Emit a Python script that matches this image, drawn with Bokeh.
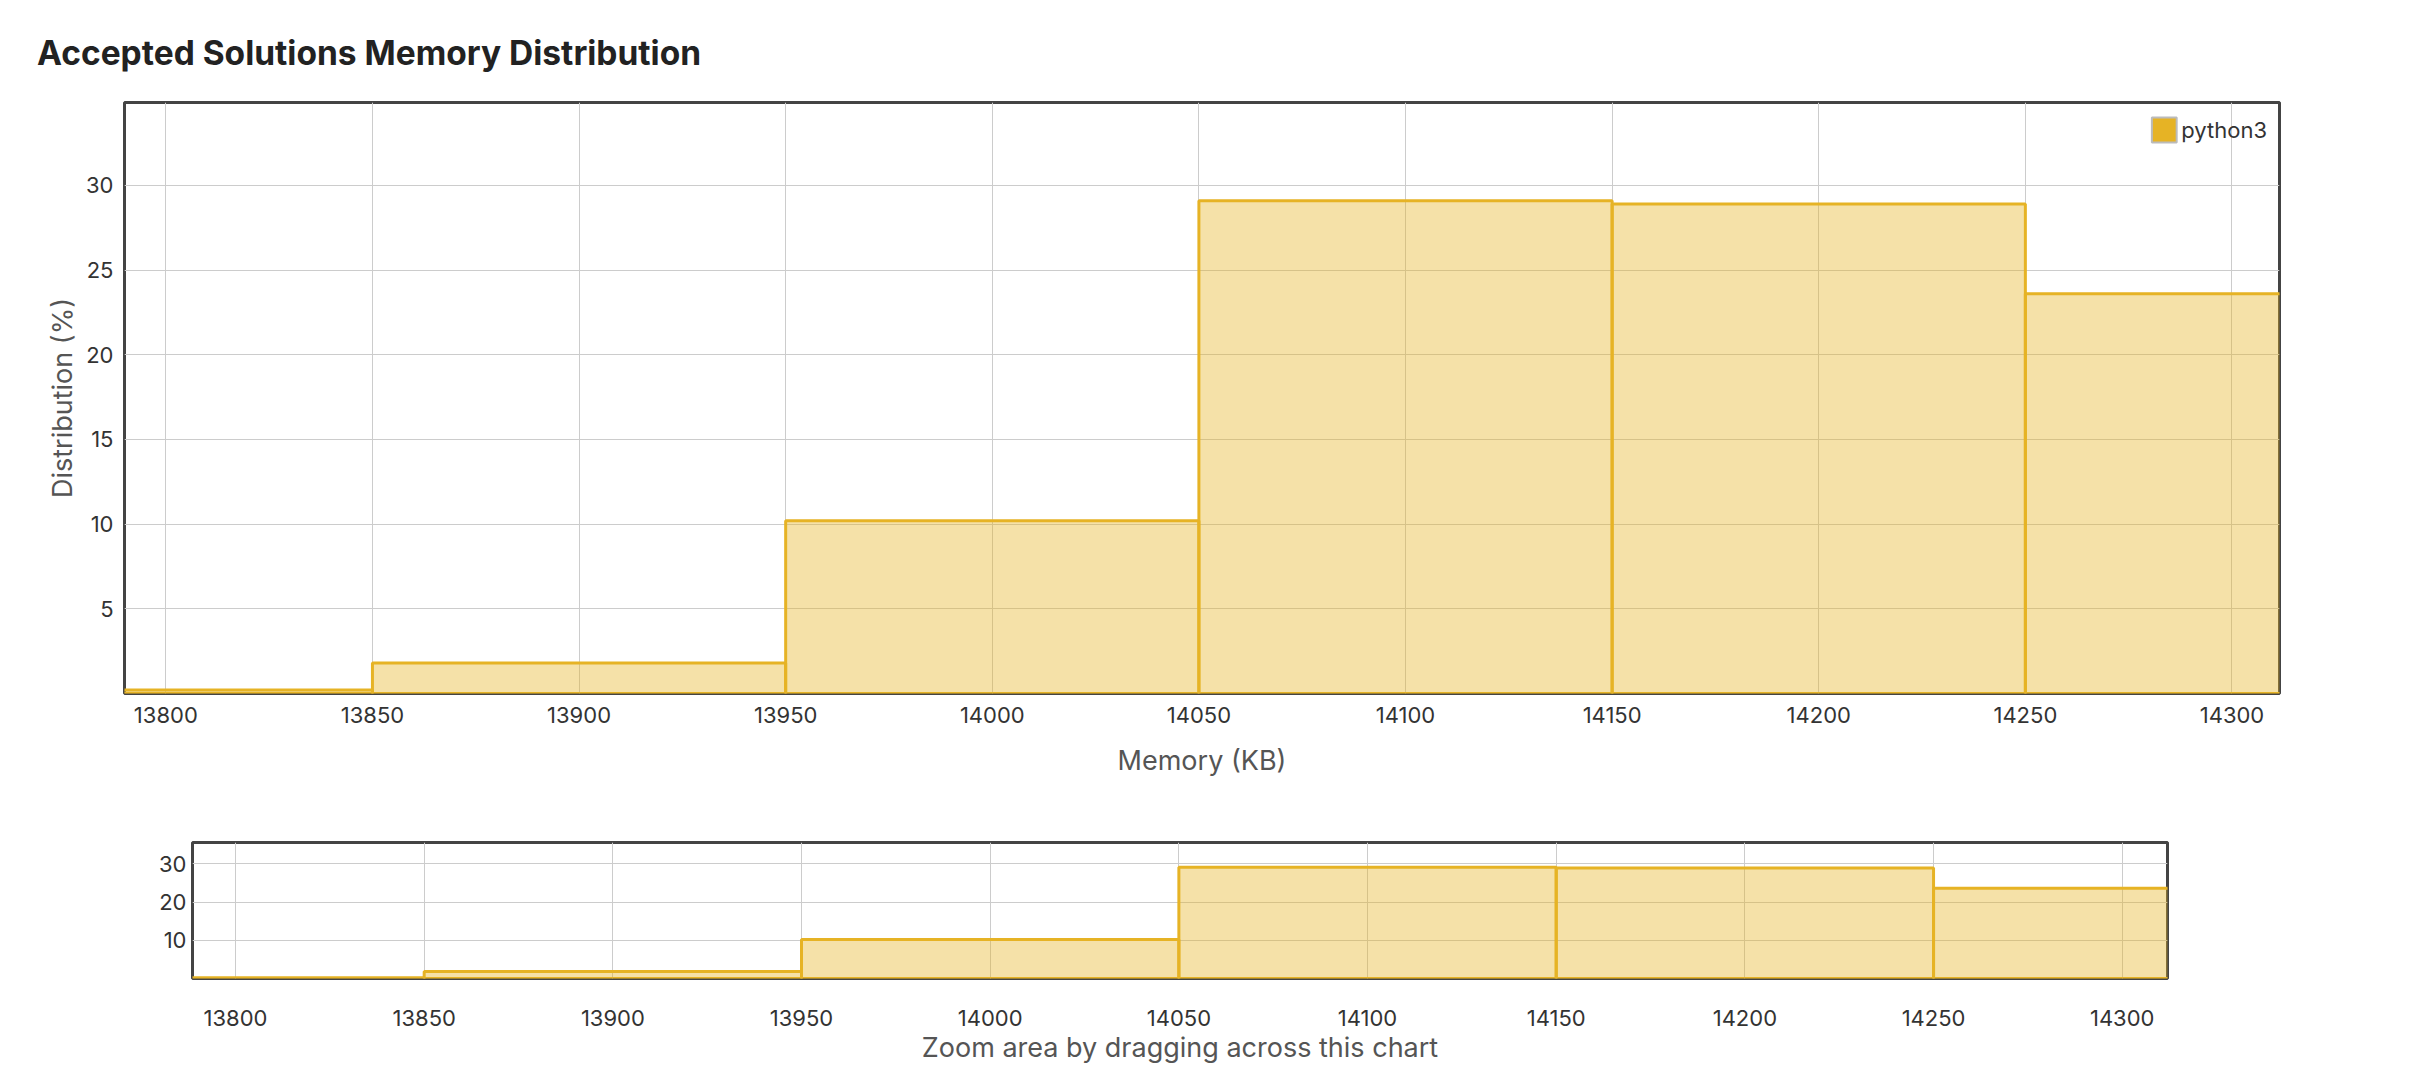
import numpy as np
from bokeh.plotting import figure
from bokeh.models import FixedTicker, Range1d, Legend, LegendItem, ColumnDataSource, Spacer
from bokeh.layouts import column, row
from bokeh.embed import file_html
from bokeh.resources import INLINE

# ---- data ----
title_text = "Accepted Solutions Memory Distribution"
series_name = "python3"
x_label = "Memory (KB)"
y_label = "Distribution (%)"
overview_label = "Zoom area by dragging across this chart"
bin_centers = [13800, 13900, 14000, 14100, 14200, 14300]
bin_width = 100
distribution = [0.2, 1.8, 10.2, 29.1, 28.9, 23.6]
x_ticks = [13800, 13850, 13900, 13950, 14000, 14050, 14100, 14150, 14200, 14250, 14300]
main_y_ticks = [5, 10, 15, 20, 25, 30]
overview_y_ticks = [10, 20, 30]

GOLD = "#e6b325"
FONT = "Inter"

src = ColumnDataSource(dict(
    left=[c - bin_width / 2 for c in bin_centers],
    right=[c + bin_width / 2 for c in bin_centers],
    top=distribution,
    bottom=[0] * len(distribution),
))


def style(p, yticks, x_tick_standoff, x_label_standoff, y_tick_standoff, y_label_standoff):
    p.outline_line_color = "#444444"
    p.outline_line_width = 3
    p.xaxis.ticker = FixedTicker(ticks=x_ticks)
    p.yaxis.ticker = FixedTicker(ticks=yticks)
    for ax in (p.xaxis, p.yaxis):
        ax.axis_line_color = None
        ax.major_tick_line_color = None
        ax.minor_tick_line_color = None
        ax.major_tick_out = 0
        ax.major_tick_in = 0
        ax.minor_tick_out = 0
        ax.minor_tick_in = 0
        ax.major_label_text_font = FONT
        ax.major_label_text_font_size = "22px"
        ax.major_label_text_color = "#333333"
        ax.axis_label_text_font = FONT
        ax.axis_label_text_font_size = "27px"
        ax.axis_label_text_font_style = "normal"
        ax.axis_label_text_color = "#555555"
    p.xaxis.major_label_standoff = x_tick_standoff
    p.xaxis.axis_label_standoff = x_label_standoff
    p.yaxis.major_label_standoff = y_tick_standoff
    p.yaxis.axis_label_standoff = y_label_standoff
    p.xgrid.ticker = FixedTicker(ticks=x_ticks)
    p.ygrid.ticker = FixedTicker(ticks=yticks)
    p.grid.grid_line_color = "#cccccc"
    p.grid.grid_line_width = 1
    p.quad(left="left", right="right", top="top", bottom="bottom", source=src,
           fill_color=GOLD, fill_alpha=0.4, line_color=GOLD, line_width=3)


main = figure(frame_width=2155, frame_height=591,
              x_range=Range1d(13790, 14311.5), y_range=Range1d(0, 34.9),
              min_border_left=124, min_border_right=100,
              min_border_top=101, min_border_bottom=116,
              output_backend="svg", toolbar_location=None,
              x_axis_label=x_label, y_axis_label=y_label)
style(main, main_y_ticks, 13, 18, 11, 4)
main.title.text = title_text
main.title.align = "left"
main.title.offset = -87.5
main.title.standoff = 60
main.title.text_line_height = 1.0
main.title.text_font = FONT
main.title.text_font_size = "33.5px"
main.title.text_font_style = "bold"
main.title.text_color = "#222222"

# legend swatch proxy (not drawn in the plot area)
nan = np.array([np.nan])
dummy = main.quad(left=nan, right=nan, top=nan, bottom=nan, fill_color=GOLD, fill_alpha=1,
                  line_color="#bbbbbb", line_width=2)
legend = Legend(items=[LegendItem(label=series_name, renderers=[dummy])],
                location="top_right", border_line_color=None, background_fill_alpha=0,
                margin=12, padding=11, glyph_width=31, glyph_height=31, label_standoff=2,
                label_text_font=FONT, label_text_font_size="22px", label_text_color="#333333")
main.add_layout(legend)

overview = figure(frame_width=1975, frame_height=136,
                  x_range=Range1d(13788.6, 14312), y_range=Range1d(0, 35.6),
                  min_border_left=124, min_border_right=100,
                  min_border_top=33, min_border_bottom=85,
                  output_backend="svg", toolbar_location=None,
                  x_axis_label=overview_label)
style(overview, overview_y_ticks, 31, 2, 6, 4)

layout = column(main, row(Spacer(width=68), overview, Spacer(width=112)), spacing=0)
open("out.html", "w").write(file_html(layout, INLINE))
